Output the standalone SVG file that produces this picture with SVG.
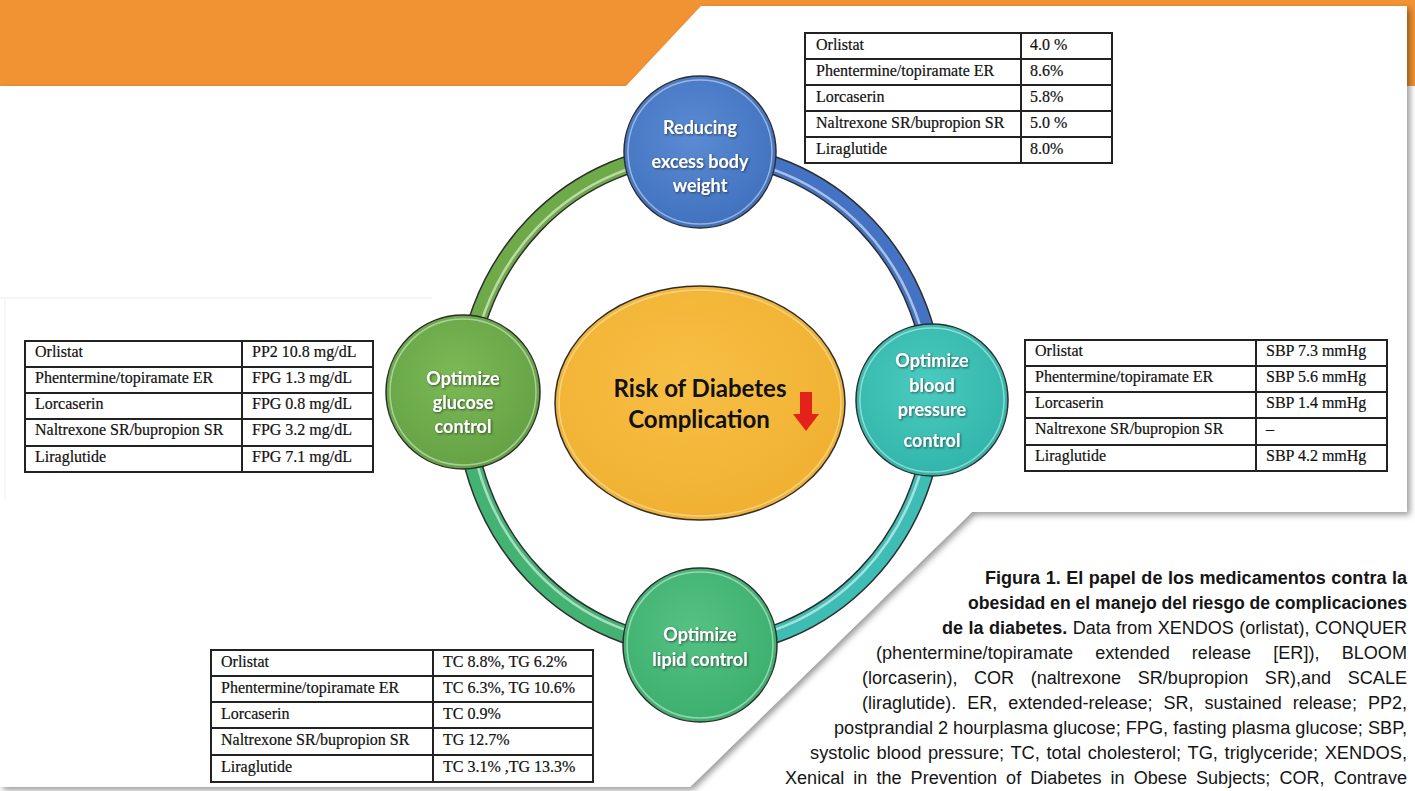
<svg xmlns="http://www.w3.org/2000/svg" width="1415" height="791" viewBox="0 0 1415 791">
  <defs>
    <filter id="pageShadow" x="-5%" y="-5%" width="110%" height="110%">
      <feDropShadow dx="3" dy="3" stdDeviation="3" flood-color="#000" flood-opacity="0.4"/>
    </filter>
    <filter id="labelShadow" x="-10%" y="-10%" width="120%" height="130%">
      <feDropShadow dx="1" dy="1" stdDeviation="0.8" flood-color="#1a1a1a" flood-opacity="0.65"/>
    </filter>
    <radialGradient id="gBlue" cx="45%" cy="40%" r="65%">
      <stop offset="0" stop-color="#5b8bd3"/><stop offset="1" stop-color="#3f70bd"/>
    </radialGradient>
    <radialGradient id="gOlive" cx="45%" cy="40%" r="65%">
      <stop offset="0" stop-color="#7cb956"/><stop offset="1" stop-color="#62a042"/>
    </radialGradient>
    <radialGradient id="gTeal" cx="45%" cy="40%" r="65%">
      <stop offset="0" stop-color="#4ccbc0"/><stop offset="1" stop-color="#2fb3a8"/>
    </radialGradient>
    <radialGradient id="gGreen" cx="45%" cy="40%" r="65%">
      <stop offset="0" stop-color="#55c283"/><stop offset="1" stop-color="#3aad6c"/>
    </radialGradient>
    <radialGradient id="gYellow" cx="45%" cy="40%" r="65%">
      <stop offset="0" stop-color="#f7bf45"/><stop offset="1" stop-color="#f0b030"/>
    </radialGradient>
  </defs>
  <style>
    .tbl rect, .tbl line { fill: none; stroke: #222; stroke-width: 2; }
    .tbl text { font-family: "Liberation Serif", "Times New Roman", serif; font-size: 16px; fill: #111; stroke: #111; stroke-width: 0.2; }
    .node circle.body { stroke: #2e2e2e; stroke-width: 1.5; }
    .node circle.rim { fill: none; stroke: #ffffff; stroke-opacity: 0.45; stroke-width: 1.5; }
    .label { font-family: Lato, "Open Sans", sans-serif; font-weight: 700; font-size: 18px; fill: #ffffff; text-anchor: middle; }
    .core { font-family: Lato, "Open Sans", sans-serif; font-weight: 700; font-size: 24px; fill: #111; text-anchor: middle; }
    .ring-edge { fill: none; stroke: #2e2e2e; stroke-width: 19; }
    .ring-hi { fill: none; stroke: #ffffff; stroke-opacity: 0.55; stroke-width: 2.5; }
    .cap { font-family: "Liberation Sans", Arial, sans-serif; font-size: 18px; fill: #151515; }
    .capb { font-weight: 700; }
  </style>

  <!-- background and orange header band -->
  <rect x="0" y="0" width="1415" height="791" fill="#ffffff"/>
  <rect x="0" y="0" width="1415" height="86" fill="#f29333"/>

  <!-- page sheet with cut corners -->
  <polygon points="0,86 626,86 701,6 1407,6 1407,512 972,512 690,787 0,787" fill="#ffffff" filter="url(#pageShadow)"/>
  <line x1="0" y1="298" x2="432" y2="298" stroke="#f2f2f2" stroke-width="1.5"/>
  <line x1="5" y1="298" x2="5" y2="500" stroke="#f5f5f5" stroke-width="1.5"/>

  <!-- connectors: ring segments between nodes -->
  <g id="connectors">
    <path class="ring-edge" d="M700,153 A235,247 0 0 1 935,400"/>
    <path class="ring-edge" d="M935,400 A235,247 0 0 1 700,647"/>
    <path class="ring-edge" d="M700,647 A235,247 0 0 1 465,400"/>
    <path class="ring-edge" d="M465,400 A235,247 0 0 1 700,153"/>
    <path d="M700,153 A235,247 0 0 1 935,400" fill="none" stroke="#4472c4" stroke-width="16"/>
    <path d="M935,400 A235,247 0 0 1 700,647" fill="none" stroke="#3dbdb3" stroke-width="16"/>
    <path d="M700,647 A235,247 0 0 1 465,400" fill="none" stroke="#43b374" stroke-width="16"/>
    <path d="M465,400 A235,247 0 0 1 700,153" fill="none" stroke="#6eab48" stroke-width="16"/>
    <path class="ring-hi" d="M700,157 A231,243 0 0 1 931,400"/>
    <path class="ring-hi" d="M931,400 A231,243 0 0 1 700,643"/>
    <path class="ring-hi" d="M700,643 A231,243 0 0 1 469,400"/>
    <path class="ring-hi" d="M469,400 A231,243 0 0 1 700,157"/>
  </g>

  <!-- centre -->
  <g id="node-risk" class="node">
    <ellipse cx="700" cy="403" rx="145" ry="117" fill="url(#gYellow)" stroke="#2e2e2e" stroke-width="1.5"/>
    <ellipse cx="700" cy="403" rx="141" ry="113" fill="none" stroke="#ffffff" stroke-opacity="0.4" stroke-width="1.5"/>
    <text class="core" x="700" y="397">Risk of Diabetes</text>
    <text class="core" x="699" y="428">Complication</text>
    <polygon points="800,392 812,392 812,414 819,414 806,431 793,414 800,414" fill="#e3231b"/>
  </g>

  <g id="node-weight" class="node">
    <circle class="body" cx="700" cy="152" r="76" fill="url(#gBlue)"/>
    <circle class="rim" cx="700" cy="152" r="72"/>
    <g filter="url(#labelShadow)">
      <text class="label" x="700" y="134">Reducing</text>
      <text class="label" x="700" y="168">excess body</text>
      <text class="label" x="700" y="192">weight</text>
    </g>
  </g>

  <g id="node-glucose" class="node">
    <circle class="body" cx="463" cy="392" r="77" fill="url(#gOlive)"/>
    <circle class="rim" cx="463" cy="392" r="73"/>
    <g filter="url(#labelShadow)">
      <text class="label" x="463" y="385">Optimize</text>
      <text class="label" x="463" y="409">glucose</text>
      <text class="label" x="463" y="433">control</text>
    </g>
  </g>

  <g id="node-pressure" class="node">
    <circle class="body" cx="932" cy="400" r="76" fill="url(#gTeal)"/>
    <circle class="rim" cx="932" cy="400" r="72"/>
    <g filter="url(#labelShadow)">
      <text class="label" x="932" y="367">Optimize</text>
      <text class="label" x="932" y="392">blood</text>
      <text class="label" x="932" y="416">pressure</text>
      <text class="label" x="932" y="447">control</text>
    </g>
  </g>

  <g id="node-lipid" class="node">
    <circle class="body" cx="700" cy="645" r="77" fill="url(#gGreen)"/>
    <circle class="rim" cx="700" cy="645" r="73"/>
    <g filter="url(#labelShadow)">
      <text class="label" x="700" y="641">Optimize</text>
      <text class="label" x="700" y="666">lipid control</text>
    </g>
  </g>

  <!-- weight loss table -->
  <g id="table-weight" class="tbl">
    <rect x="805" y="33" width="307" height="130"/>
    <line x1="1021" y1="33" x2="1021" y2="163"/>
    <line x1="805" y1="59" x2="1112" y2="59"/>
    <line x1="805" y1="85" x2="1112" y2="85"/>
    <line x1="805" y1="111" x2="1112" y2="111"/>
    <line x1="805" y1="137" x2="1112" y2="137"/>
    <text x="816" y="50">Orlistat</text><text x="1030" y="50">4.0 %</text>
    <text x="816" y="76">Phentermine/topiramate ER</text><text x="1030" y="76">8.6%</text>
    <text x="816" y="102">Lorcaserin</text><text x="1030" y="102">5.8%</text>
    <text x="816" y="128">Naltrexone SR/bupropion SR</text><text x="1030" y="128">5.0 %</text>
    <text x="816" y="154">Liraglutide</text><text x="1030" y="154">8.0%</text>
  </g>

  <!-- glucose table -->
  <g id="table-glucose" class="tbl">
    <rect x="25" y="341" width="348" height="131"/>
    <line x1="242" y1="341" x2="242" y2="472"/>
    <line x1="25" y1="367" x2="373" y2="367"/>
    <line x1="25" y1="393" x2="373" y2="393"/>
    <line x1="25" y1="419" x2="373" y2="419"/>
    <line x1="25" y1="446" x2="373" y2="446"/>
    <text x="35" y="357">Orlistat</text><text x="252" y="357">PP2 10.8 mg/dL</text>
    <text x="35" y="383">Phentermine/topiramate ER</text><text x="252" y="383">FPG 1.3 mg/dL</text>
    <text x="35" y="409">Lorcaserin</text><text x="252" y="409">FPG 0.8 mg/dL</text>
    <text x="35" y="435">Naltrexone SR/bupropion SR</text><text x="252" y="435">FPG 3.2 mg/dL</text>
    <text x="35" y="462">Liraglutide</text><text x="252" y="462">FPG 7.1 mg/dL</text>
  </g>

  <!-- blood pressure table -->
  <g id="table-pressure" class="tbl">
    <rect x="1025" y="340" width="362" height="131"/>
    <line x1="1256" y1="340" x2="1256" y2="471"/>
    <line x1="1025" y1="366" x2="1387" y2="366"/>
    <line x1="1025" y1="392" x2="1387" y2="392"/>
    <line x1="1025" y1="418" x2="1387" y2="418"/>
    <line x1="1025" y1="445" x2="1387" y2="445"/>
    <text x="1035" y="356">Orlistat</text><text x="1266" y="356">SBP 7.3 mmHg</text>
    <text x="1035" y="382">Phentermine/topiramate ER</text><text x="1266" y="382">SBP 5.6 mmHg</text>
    <text x="1035" y="408">Lorcaserin</text><text x="1266" y="408">SBP 1.4 mmHg</text>
    <text x="1035" y="434">Naltrexone SR/bupropion SR</text><text x="1266" y="434">–</text>
    <text x="1035" y="461">Liraglutide</text><text x="1266" y="461">SBP 4.2 mmHg</text>
  </g>

  <!-- lipid table -->
  <g id="table-lipid" class="tbl">
    <rect x="211" y="650" width="382" height="132"/>
    <line x1="433" y1="650" x2="433" y2="782"/>
    <line x1="211" y1="676" x2="593" y2="676"/>
    <line x1="211" y1="702" x2="593" y2="702"/>
    <line x1="211" y1="728" x2="593" y2="728"/>
    <line x1="211" y1="755" x2="593" y2="755"/>
    <text x="221" y="667">Orlistat</text><text x="443" y="667">TC 8.8%, TG 6.2%</text>
    <text x="221" y="693">Phentermine/topiramate ER</text><text x="443" y="693">TC 6.3%, TG 10.6%</text>
    <text x="221" y="719">Lorcaserin</text><text x="443" y="719">TC 0.9%</text>
    <text x="221" y="745">Naltrexone SR/bupropion SR</text><text x="443" y="745">TG 12.7%</text>
    <text x="221" y="772">Liraglutide</text><text x="443" y="772">TC 3.1% ,TG 13.3%</text>
  </g>

  <!-- figure caption, justified to the right margin with widened word gaps -->
  <g id="caption">
    <text class="cap capb" x="985" y="584" word-spacing="0.5" textLength="422" lengthAdjust="spacingAndGlyphs">Figura 1. El papel de los medicamentos contra la</text>
    <text class="cap capb" x="968" y="609" font-size="17.5" textLength="439" lengthAdjust="spacingAndGlyphs">obesidad en el manejo del riesgo de complicaciones</text>
    <text class="cap" x="942" y="634" word-spacing="0.5" textLength="465" lengthAdjust="spacingAndGlyphs"><tspan class="capb">de la diabetes.</tspan> Data from XENDOS (orlistat), CONQUER</text>
    <text class="cap" x="876" y="659" word-spacing="17" textLength="531" lengthAdjust="spacingAndGlyphs">(phentermine/topiramate extended release [ER]), BLOOM</text>
    <text class="cap" x="862" y="684" word-spacing="11.5" textLength="545" lengthAdjust="spacingAndGlyphs">(lorcaserin), COR (naltrexone SR/bupropion SR),and SCALE</text>
    <text class="cap" x="862" y="709" word-spacing="6" textLength="545" lengthAdjust="spacingAndGlyphs">(liraglutide). ER, extended-release; SR, sustained release; PP2,</text>
    <text class="cap" x="834" y="734" textLength="573" lengthAdjust="spacingAndGlyphs">postprandial 2 hourplasma glucose; FPG, fasting plasma glucose; SBP,</text>
    <text class="cap" x="810" y="759" word-spacing="1.5" textLength="597" lengthAdjust="spacingAndGlyphs">systolic blood pressure; TC, total cholesterol; TG, triglyceride; XENDOS,</text>
    <text class="cap" x="785" y="784" word-spacing="4" textLength="622" lengthAdjust="spacingAndGlyphs">Xenical in the Prevention of Diabetes in Obese Subjects; COR, Contrave</text>
  </g>
</svg>
